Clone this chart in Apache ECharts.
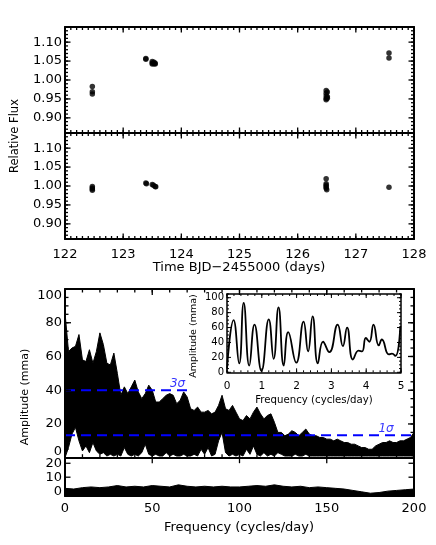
<!DOCTYPE html>
<html>
<head>
<meta charset="utf-8">
<script src="https://cdn.jsdelivr.net/npm/echarts@6/dist/echarts.min.js"></script>
<style>
  html, body { margin: 0; padding: 0; background: #fff; }
  #chart { width: 436px; height: 545px; }
</style>
</head>
<body>
<div id="chart"></div>
<script>
const FONT = 'DejaVu Sans';

// light curve (top) and residuals after the fit (bottom), time is BJD-2455000
const lcTime = [122.47, 122.47, 122.47, 123.39, 123.39, 123.50, 123.50, 123.50, 123.53, 123.53, 123.55, 123.55,
  126.49, 126.49, 126.49, 126.49, 126.49, 126.51, 126.51, 126.51, 127.57, 127.57];
const lcFlux = [0.983, 0.969, 0.963, 1.057, 1.055, 1.049, 1.045, 1.042, 1.047, 1.043, 1.044, 1.042,
  0.972, 0.965, 0.958, 0.951, 0.948, 0.968, 0.956, 0.952, 1.071, 1.058];
const resTime = [122.47, 122.47, 122.47, 122.47, 123.39, 123.40, 123.50, 123.52, 123.55, 123.56,
  126.49, 126.49, 126.49, 126.49, 126.49, 126.50, 127.57];
const resFlux = [0.999, 0.995, 0.992, 0.989, 1.008, 1.006, 1.004, 1.002, 0.999, 0.998,
  1.019, 1.006, 1.002, 0.998, 0.994, 0.990, 0.997];

// amplitude spectrum 0-200 c/d: upper and lower edge of the black band, one value every 2 c/d
const perUpper = [86, 63, 65, 66, 73, 58, 57, 64, 56, 63, 74, 67, 56, 55, 62, 50, 37, 42, 38, 42,
  46, 39, 35, 38, 43, 40, 33, 33, 35, 37, 38, 37, 32, 34, 39, 36, 29, 28, 30, 27,
  27, 28, 26, 27, 31, 37, 29, 28, 31, 27, 23, 22, 25, 23, 27, 30, 26, 23, 25, 26,
  21, 15, 15, 13, 14, 16, 15, 13, 15, 17, 14, 13, 13, 12, 12, 11, 11, 10, 11, 10,
  9, 9, 8, 8, 7, 6, 6, 5, 5, 7, 8, 9, 9, 10, 9, 9, 10, 10, 11, 12, 15];
const perLower = [0, 6, 14, 18, 10, 4, 7, 3, 9, 4, 2, 3, 1, 2, 1, 2, 1, 6, 2, 1,
  2, 1, 3, 8, 2, 1, 2, 1, 1, 3, 1, 2, 1, 1, 2, 1, 1, 2, 1, 5,
  2, 6, 1, 2, 10, 15, 3, 1, 2, 1, 2, 1, 5, 2, 7, 2, 1, 3, 1, 2,
  1, 3, 2, 1, 1, 1, 2, 1, 1, 2, 1, 1, 1, 1, 1, 1, 1, 1, 1, 1,
  1, 1, 1, 1, 1, 1, 1, 1, 1, 1, 1, 1, 1, 1, 1, 1, 1, 1, 1, 1, 1];
// spectrum of the residuals, upper edge every 5 c/d
const resSpecUpper = [2, 1.5, 2.5, 3, 2.5, 3, 4, 3, 3.5, 3, 4, 3.5, 3, 4.5, 3.5, 3, 3.5, 3, 3.5, 3,
  3, 3.5, 4, 3.5, 4.5, 3.5, 3, 3.5, 2.5, 3, 2.5, 2, 1.5, 0.5, -0.5, -1.5, -1, 0, 0.5, 1, 1.5];

// noise levels (mma), how far each dashed line runs and where its label sits (c/d)
const sigmaLevel = [13.3, 40];
const sigmaName = ['1σ', '3σ'];
const sigmaEnd = [200, 70];
const sigmaLabelFreq = [184, 64.5];

// inset: close-up of 0-5 c/d
const inFreq = [0, 0.19, 0.35, 0.48, 0.64, 0.79, 0.99, 1.20, 1.34, 1.48, 1.63, 1.76, 1.99, 2.20, 2.33, 2.46,
  2.61, 2.76, 2.94, 3.18, 3.33, 3.45, 3.62, 3.78, 3.88, 3.99, 4.09, 4.21, 4.36, 4.45, 4.65, 4.74, 4.84, 4.98];
const inAmp = [5, 70, 12, 93, 9, 64, 2, 71, 18, 87, 9, 54, 13, 68, 28, 75,
  12, 41, 27, 64, 35, 60, 17, 29, 28, 46, 41, 64, 36, 44, 24, 25, 22, 62];

// tick labels
const timeTicks = [122, 123, 124, 125, 126, 127, 128];
const fluxTicks = [0.90, 0.95, 1.00, 1.05, 1.10];
const freqTicks = [0, 50, 100, 150, 200];
const ampTicks = [0, 20, 40, 60, 80, 100];
const resAmpTicks = [0, 10, 20];
const inFreqTicks = [0, 1, 2, 3, 4, 5];
const inAmpTicks = [0, 20, 40, 60, 80, 100];

function range(a, b, step) {
  const out = [];
  for (let i = 0; a + i * step <= b + 1e-9; i++) out.push(+(a + i * step).toFixed(4));
  return out;
}
const pairs = (xs, ys) => xs.map((x, i) => [x, ys[i]]);

const xAxes = [];
const yAxes = [];
// one axis = one side of a frame (line and/or labels)
function addAxis(list, grid, position, min, max, o) {
  const label = {
    show: !!o.labels, color: '#000', fontFamily: FONT,
    fontSize: o.fontSize || 13, margin: o.margin == null ? 4 : o.margin
  };
  if (o.labels) label.customValues = o.labels;
  if (o.formatter) label.formatter = o.formatter;
  if (o.verticalAlign) label.verticalAlign = o.verticalAlign;
  list.push({
    type: 'value', gridIndex: grid, position: position, min: min, max: max, z: 10,
    axisLine: { show: !!o.line, onZero: false, lineStyle: { color: '#000', width: o.lineWidth || 2 } },
    axisTick: { show: false },
    axisLabel: label,
    splitLine: { show: false }
  });
  return list.length - 1;
}

// light curve panels
const timeMinor = range(122, 128, 0.1);
const fluxMinor = range(0.86, 1.14, 0.01);
const lcX = [];
const lcY = [];
[0, 1].forEach(g => {
  lcX[g] = addAxis(xAxes, g, 'bottom', 122, 128, { line: true, labels: g === 1 ? timeTicks : null, margin: 9 });
  addAxis(xAxes, g, 'top', 122, 128, { line: true });
  lcY[g] = addAxis(yAxes, g, 'left', 0.86, 1.14, { line: true, labels: fluxTicks, formatter: v => v.toFixed(2), margin: 3 });
  addAxis(yAxes, g, 'right', 0.86, 1.14, { line: true });
});

// periodogram
const freqMinor = range(0, 200, 10);
const ampMinor = range(0, 100, 5);
const pX = addAxis(xAxes, 2, 'bottom', 0, 200, { line: true });
addAxis(xAxes, 2, 'top', 0, 200, { line: true });
const pY = addAxis(yAxes, 2, 'left', 0, 100, { line: true, labels: ampTicks.slice(1, -1), margin: 3 });
addAxis(yAxes, 2, 'left', 0, 100, { labels: ampTicks.slice(-1), verticalAlign: 'top', margin: 3 });
addAxis(yAxes, 2, 'left', 0, 100, { labels: ampTicks.slice(0, 1), verticalAlign: 'bottom', margin: 3 });
addAxis(yAxes, 2, 'right', 0, 100, { line: true });

// residual spectrum
const rX = addAxis(xAxes, 3, 'bottom', 0, 200, { line: true, labels: freqTicks, margin: 6 });
addAxis(xAxes, 3, 'top', 0, 200, { line: true });
const rY = addAxis(yAxes, 3, 'left', -3.5, 24, { line: true, labels: resAmpTicks, margin: 3 });
addAxis(yAxes, 3, 'right', -3.5, 24, { line: true });

// inset
const inMinorX = range(0, 5, 0.2);
const inMinorY = range(0, 105, 5);
const inX = addAxis(xAxes, 4, 'bottom', 0, 5, { line: true, lineWidth: 1.5, labels: inFreqTicks, fontSize: 10.5, margin: 8 });
addAxis(xAxes, 4, 'top', 0, 5, { line: true, lineWidth: 1.5 });
const inY = addAxis(yAxes, 4, 'left', 0, 105, { line: true, lineWidth: 1.5, labels: inAmpTicks, fontSize: 10, margin: 3 });
addAxis(yAxes, 4, 'right', 0, 105, { line: true, lineWidth: 1.5 });

const perFreq = perUpper.map((_, i) => i * 2);
const resFreq = resSpecUpper.map((_, i) => i * 5);

const titles = [
  { text: 'Relative Flux', x: 15, y: 136, rot: true, size: 11.5 },
  { text: 'Time BJD\u22122455000 (days)', x: 239, y: 268, size: 13 },
  { text: 'Amplitude (mma)', x: 25, y: 397, rot: true, size: 11 },
  { text: 'Frequency (cycles/day)', x: 239, y: 528, size: 13 },
  { text: 'Amplitude (mma)', x: 194, y: 336, rot: true, size: 9.5 },
  { text: 'Frequency (cycles/day)', x: 314, y: 400, size: 10.2 }
];

const chart = echarts.init(document.getElementById('chart'));
chart.setOption({
  animation: false,
  backgroundColor: '#fff',
  textStyle: { fontFamily: FONT },
  grid: [
    { left: 65, top: 27, width: 349, height: 106, outerBoundsMode: 'none' },
    { left: 65, top: 133, width: 349, height: 106, outerBoundsMode: 'none' },
    { left: 65, top: 289, width: 349, height: 168.7, outerBoundsMode: 'none' },
    { left: 65, top: 457.7, width: 349, height: 38.3, outerBoundsMode: 'none' },
    { left: 227, top: 294, width: 174, height: 78.3, show: true, backgroundColor: '#fff', borderWidth: 0, outerBoundsMode: 'none' }
  ],
  xAxis: xAxes,
  yAxis: yAxes,
  series: [
    {
      type: 'scatter', xAxisIndex: lcX[0], yAxisIndex: lcY[0], data: pairs(lcTime, lcFlux),
      symbolSize: 5.5, itemStyle: { color: '#000' }
    },
    {
      type: 'scatter', xAxisIndex: lcX[1], yAxisIndex: lcY[1], data: pairs(resTime, resFlux),
      symbolSize: 5.5, itemStyle: { color: '#000' }
    },
    {
      type: 'line', xAxisIndex: pX, yAxisIndex: pY, data: pairs(perFreq, perUpper), symbol: 'none',
      lineStyle: { color: '#000', width: 1 }, areaStyle: { color: '#000', opacity: 1, origin: 'start' }
    },
    {
      type: 'line', xAxisIndex: pX, yAxisIndex: pY, data: pairs(perFreq, perLower), symbol: 'none',
      lineStyle: { color: '#000', width: 1 }, areaStyle: { color: '#fff', opacity: 1, origin: 'start' }
    },
    ...sigmaLevel.map((lv, i) => ({
      type: 'line', xAxisIndex: pX, yAxisIndex: pY, data: [[0, lv], [sigmaEnd[i], lv]], symbol: 'none', z: 4,
      lineStyle: { color: '#0000ff', width: 2, type: [10, 6] }
    })),
    {
      type: 'scatter', xAxisIndex: pX, yAxisIndex: pY, symbolSize: 1, z: 5, silent: true,
      itemStyle: { color: 'rgba(0,0,0,0)' },
      data: sigmaLevel.map((lv, i) => ({ value: [sigmaLabelFreq[i], lv], label: { formatter: sigmaName[i] } })),
      label: { show: true, position: 'top', distance: 0, color: '#0000ff', fontFamily: FONT, fontSize: 12, fontStyle: 'italic' }
    },
    {
      type: 'line', xAxisIndex: rX, yAxisIndex: rY, data: pairs(resFreq, resSpecUpper), symbol: 'none',
      lineStyle: { color: '#000', width: 1 }, areaStyle: { color: '#000', opacity: 1, origin: 'start' }
    },
    {
      type: 'line', xAxisIndex: inX, yAxisIndex: inY, data: pairs(inFreq, inAmp), symbol: 'none', smooth: 0.5,
      lineStyle: { color: '#000', width: 1.8 }
    }
  ]
});

// inward ticks on every side of a frame, placed with the chart's own axes
function frameTicks(xi, yi, xVals, yVals, len, width) {
  const xa = xAxes[xi], ya = yAxes[yi];
  const toPx = v => chart.convertToPixel({ xAxisIndex: xi, yAxisIndex: yi }, v);
  const p0 = toPx([xa.min, ya.min]);
  const p1 = toPx([xa.max, ya.max]);
  const out = [];
  const line = (x1, y1, x2, y2) => out.push({
    type: 'line', silent: true, z: 100,
    shape: { x1: x1, y1: y1, x2: x2, y2: y2 },
    style: { stroke: '#000', lineWidth: width || 1.3 }
  });
  xVals.forEach(v => {
    const x = toPx([v, ya.min])[0];
    line(x, p0[1], x, p0[1] - len);
    line(x, p1[1], x, p1[1] + len);
  });
  yVals.forEach(v => {
    const y = toPx([xa.min, v])[1];
    line(p0[0], y, p0[0] + len, y);
    line(p1[0], y, p1[0] - len, y);
  });
  return out;
}

const ticks = [].concat(
  frameTicks(lcX[0], lcY[0], timeTicks, fluxTicks, 5.5),
  frameTicks(lcX[0], lcY[0], timeMinor, fluxMinor, 3),
  frameTicks(lcX[1], lcY[1], timeTicks, fluxTicks, 5.5),
  frameTicks(lcX[1], lcY[1], timeMinor, fluxMinor, 3),
  frameTicks(pX, pY, freqTicks, ampTicks, 6),
  frameTicks(pX, pY, freqMinor, ampMinor, 3.5),
  frameTicks(rX, rY, freqTicks, resAmpTicks, 5.5),
  frameTicks(inX, inY, inFreqTicks, inAmpTicks, 4, 1),
  frameTicks(inX, inY, inMinorX, inMinorY, 2, 1)
);

chart.setOption({
  graphic: titles.map(t => ({
    type: 'text', x: t.x, y: t.y, rotation: t.rot ? Math.PI / 2 : 0, z: 100,
    style: { text: t.text, fill: '#000', fontFamily: FONT, fontSize: t.size, align: 'center', verticalAlign: 'middle' }
  })).concat(ticks)
});
</script>
</body>
</html>
